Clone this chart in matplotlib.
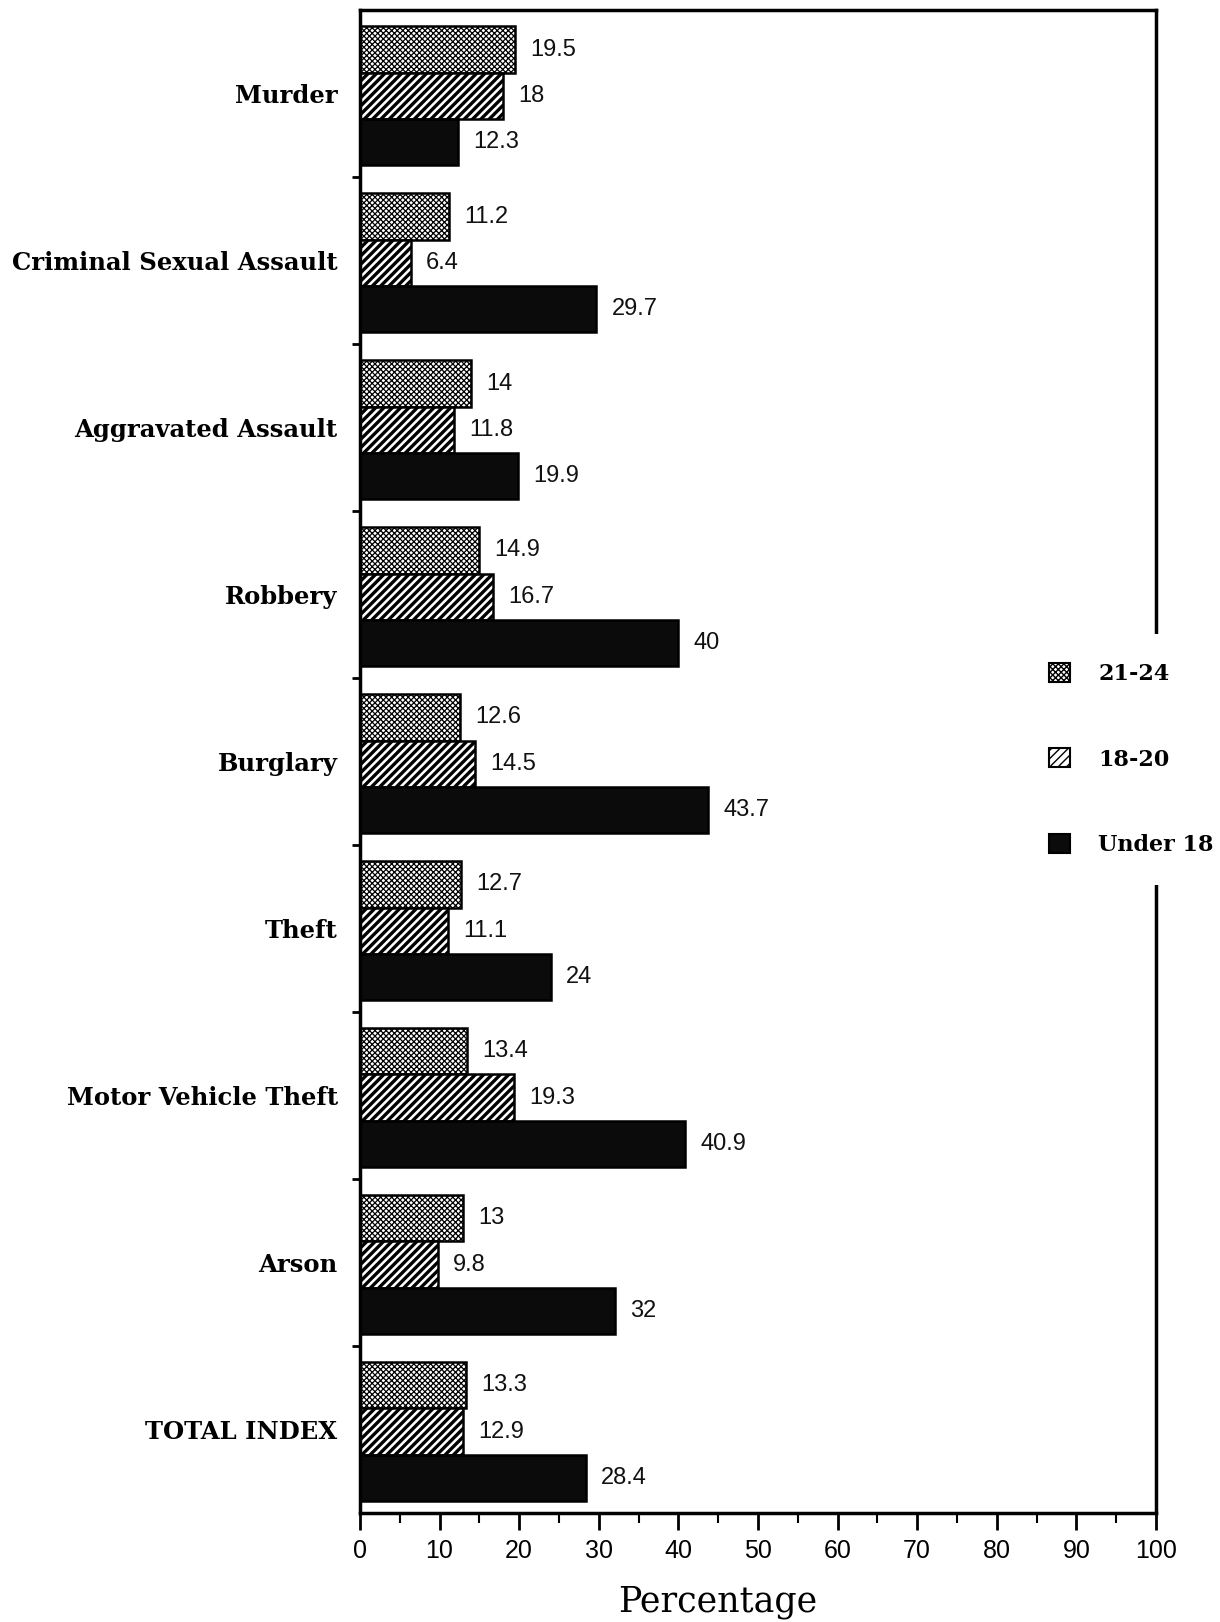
import matplotlib
matplotlib.use("Agg")
import matplotlib.pyplot as plt
import numpy as np
from matplotlib.ticker import MultipleLocator, FixedLocator

categories = ["Murder", "Criminal Sexual Assault", "Aggravated Assault", "Robbery",
              "Burglary", "Theft", "Motor Vehicle Theft", "Arson", "TOTAL INDEX"]
series_labels = ["21-24", "18-20", "Under 18"]
age_21_24 = [19.5, 11.2, 14, 14.9, 12.6, 12.7, 13.4, 13, 13.3]
age_18_20 = [18, 6.4, 11.8, 16.7, 14.5, 11.1, 19.3, 9.8, 12.9]
under_18 = [12.3, 29.7, 19.9, 40, 43.7, 24, 40.9, 32, 28.4]
x_ticks = [0, 10, 20, 30, 40, 50, 60, 70, 80, 90, 100]
x_label = "Percentage"

fig = plt.figure(figsize=(12.2, 16.22), dpi=100)
ax = fig.add_axes([0.295, 0.0672, 0.9475 - 0.295, 0.9936 - 0.0672])

y = np.arange(len(categories))
h = 0.277
shift = 0.012
styles = [
    dict(facecolor="white", hatch="xxxxxx"),
    dict(facecolor="white", hatch="////"),
    dict(facecolor="#0b0b0b", hatch=None),
]
hatch_lw = [0.9, 2.4, 1.0]
series = [age_21_24, age_18_20, under_18]
offsets = [-h, 0, h]
for vals, off, st, lab, hlw in zip(series, offsets, styles, series_labels, hatch_lw):
    plt.rcParams['hatch.linewidth'] = hlw
    bc = ax.barh(y + off + shift, vals, height=h, edgecolor="black", linewidth=1.8,
                 label=lab, **st)
    ax.bar_label(bc, labels=[f"{v:g}" for v in vals], padding=11,
                 fontsize=17, family="Liberation Sans", color="#111111")

ax.set_ylim(len(categories) - 0.5, -0.5)
ax.set_xlim(0, 100)

ax.set_yticks(y)
ax.set_yticklabels(categories, family="DejaVu Serif", fontweight="bold", fontsize=17.5)
ax.tick_params(axis="y", which="major", length=0, pad=16)
ax.yaxis.set_minor_locator(FixedLocator(np.arange(0.5, len(categories) - 0.5, 1.0)))
ax.tick_params(axis="y", which="minor", length=6, width=2, direction="out")

ax.set_xticks(x_ticks)
ax.set_xticklabels([str(t) for t in x_ticks], family="Liberation Sans", fontsize=18)
ax.xaxis.set_minor_locator(MultipleLocator(5))
ax.tick_params(axis="x", which="major", length=12, width=2, direction="out", pad=7)
ax.tick_params(axis="x", which="minor", length=7, width=1.5, direction="out")
ax.tick_params(top=False, right=False, which="both")

for sp in ax.spines.values():
    sp.set_linewidth(2.5)

ax.set_xlabel(x_label, family="DejaVu Serif", fontsize=25, va="center")
ax.xaxis.set_label_coords(0.449, -0.0592)

leg = ax.legend(loc="center left", bbox_to_anchor=(0.8364, 0.5318),
                bbox_transform=fig.transFigure, frameon=True, fancybox=False,
                facecolor="white", edgecolor="none", framealpha=1,
                prop=dict(family="DejaVu Serif", weight="bold", size=16),
                handlelength=0.95, handleheight=0.95, handletextpad=1.25,
                labelspacing=2.85, borderpad=1.3, borderaxespad=0)
for p in leg.get_patches():
    p.set_linewidth(1.5)

fig.savefig("out.png", dpi=100, facecolor="white")
